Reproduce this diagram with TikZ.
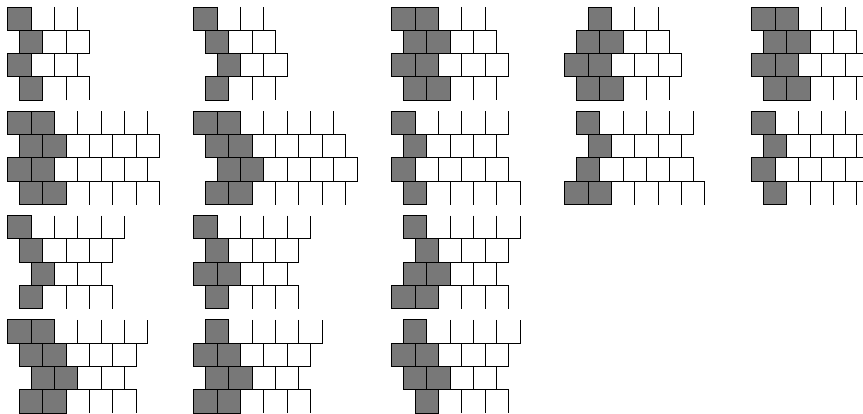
\documentclass[tikz,border=0pt]{standalone}
\usepackage{tikz}
\usepackage{xcolor}

\definecolor{cellgray}{gray}{0.47}

\newcommand{\brickfig}[3]{%
  \foreach \s/\g/\w [count=\rowno] in {#3} {
    \pgfmathsetmacro{\yt}{-(#2)-\rowno+1}
    \foreach \j in {1,...,\w} {
      \pgfmathsetmacro{\xl}{#1+\s+\g+\j-1}
      \ifnum\rowno=1
        \draw[whitecell] (\xl,\yt) -- ++(0,-1) -- ++(1,0) -- ++(0,1);
      \else\ifnum\rowno=4
        \draw[whitecell] (\xl,\yt-1) -- ++(0,1) -- ++(1,0) -- ++(0,-1);
      \else
        \draw[whitecell] (\xl,\yt) rectangle ++(1,-1);
      \fi\fi
    }
    \foreach \i in {1,...,\g} {
      \pgfmathsetmacro{\xl}{#1+\s+\i-1}
      \draw[graycell] (\xl,\yt) rectangle ++(1,-1);
    }
  }%
}

\begin{document}
\begin{tikzpicture}[x=0.5cm,y=0.5cm,
  whitecell/.style={draw,line width=0.6pt},
  graycell/.style={draw,fill=cellgray,line width=0.6pt}]
\clip (0,0) rectangle (36.99,-17.745);

\brickfig{0.34}{0.3}{0/1/2, 0.5/1/2, 0/1/2, 0.5/1/2}
\brickfig{8.31}{0.3}{0/1/2, 0.5/1/2, 1/1/2, 0.5/1/2}
\brickfig{16.79}{0.3}{0/2/2, 0.5/2/2, 0/2/3, 0.5/2/2}
\brickfig{24.21}{0.3}{1/1/2, 0.5/2/2, 0/2/3, 0.5/2/2}
\brickfig{32.22}{0.3}{0/2/2, 0.5/2/2, 0/2/3, 0.5/2/2}

\brickfig{0.34}{4.77}{0/2/4, 0.5/2/4, 0/2/4, 0.5/2/4}
\brickfig{8.31}{4.77}{0/2/4, 0.5/2/4, 1/2/4, 0.5/2/4}
\brickfig{16.79}{4.77}{0/1/4, 0.5/1/3, 0/1/4, 0.5/1/4}
\brickfig{24.21}{4.77}{0.5/1/4, 1/1/3, 0.5/1/4, 0/2/4}
\brickfig{32.22}{4.77}{0/1/4, 0.5/1/3, 0/1/4, 0.5/1/4}

\brickfig{0.34}{9.24}{0/1/4, 0.5/1/3, 1/1/2, 0.5/1/3}
\brickfig{8.31}{9.24}{0/1/4, 0.5/1/3, 0/2/2, 0.5/1/3}
\brickfig{16.79}{9.24}{0.5/1/4, 1/1/3, 0.5/2/2, 0/2/3}

\brickfig{0.34}{13.71}{0/2/4, 0.5/2/3, 1/2/2, 0.5/2/3}
\brickfig{8.31}{13.71}{0.5/1/4, 0/2/3, 0.5/2/2, 0/2/3}
\brickfig{16.79}{13.71}{0.5/1/4, 0/2/3, 0.5/2/2, 1/1/3}
\end{tikzpicture}
\end{document}
